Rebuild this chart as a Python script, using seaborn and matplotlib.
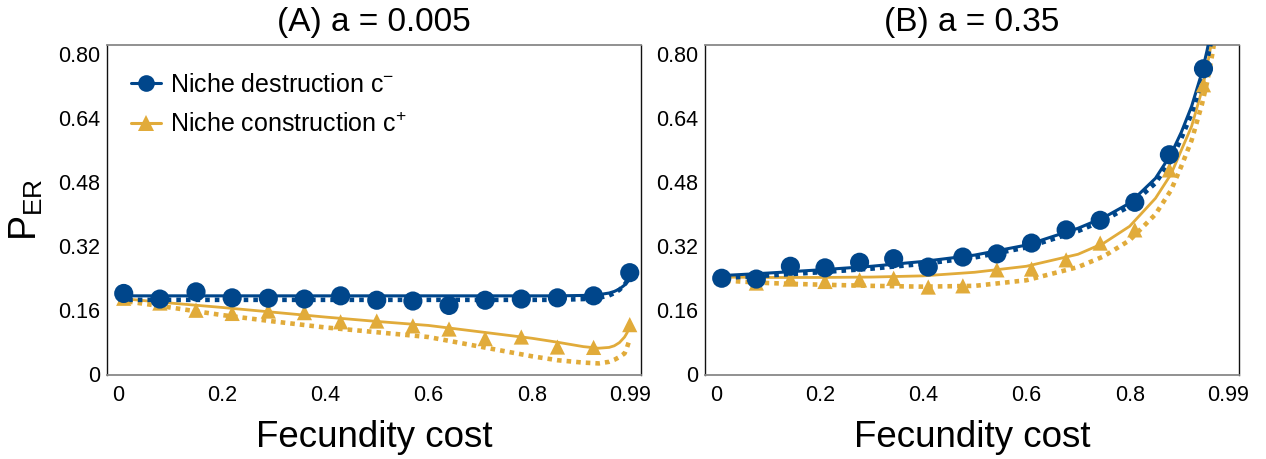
import numpy as np
import matplotlib
matplotlib.use("Agg")
import matplotlib.pyplot as plt
from matplotlib.lines import Line2D
import seaborn as sns

# ---- simulation points (markers) ----
sim_x_a = [0.01, 0.08, 0.15, 0.22, 0.29, 0.36, 0.43, 0.50, 0.57, 0.64, 0.71, 0.78, 0.85, 0.92, 0.99]
sim_destr_a = [0.202, 0.188, 0.206, 0.191, 0.190, 0.188, 0.196, 0.185, 0.183, 0.172, 0.185, 0.188, 0.191, 0.196, 0.254]
sim_constr_a = [0.190, 0.178, 0.160, 0.152, 0.158, 0.154, 0.131, 0.133, 0.121, 0.113, 0.089, 0.093, 0.068, 0.067, 0.124]

sim_x_b = [0.010, 0.077, 0.143, 0.210, 0.277, 0.343, 0.410, 0.477, 0.543, 0.610, 0.677, 0.743, 0.810, 0.877, 0.943]
sim_destr_b = [0.240, 0.238, 0.270, 0.266, 0.280, 0.289, 0.268, 0.293, 0.301, 0.328, 0.361, 0.385, 0.430, 0.549, 0.764]
sim_constr_b = [0.243, 0.228, 0.238, 0.232, 0.236, 0.240, 0.218, 0.221, 0.261, 0.263, 0.286, 0.328, 0.361, 0.511, 0.724]

# ---- analytical curves: solid = full model, dotted = approximation ----
curve_x_a = [0.0, 0.1, 0.2, 0.3, 0.4, 0.5, 0.6, 0.7, 0.8, 0.85, 0.9, 0.93, 0.95, 0.96, 0.97, 0.98, 0.985, 0.99]
destr_full_a = [0.196, 0.196, 0.196, 0.196, 0.196, 0.196, 0.196, 0.196, 0.196, 0.196, 0.197, 0.199, 0.203, 0.207, 0.213, 0.223, 0.232, 0.250]
destr_appr_a = [0.186, 0.186, 0.186, 0.186, 0.186, 0.186, 0.186, 0.186, 0.186, 0.186, 0.188, 0.191, 0.197, 0.203, 0.211, 0.224, 0.233, 0.245]
constr_full_a = [0.190, 0.178, 0.167, 0.155, 0.143, 0.132, 0.122, 0.106, 0.090, 0.080, 0.069, 0.065, 0.067, 0.071, 0.079, 0.093, 0.104, 0.120]
constr_appr_a = [0.185, 0.167, 0.148, 0.132, 0.117, 0.105, 0.093, 0.069, 0.045, 0.035, 0.029, 0.027, 0.031, 0.036, 0.043, 0.052, 0.068, 0.088]

curve_x_b = [0.0, 0.1, 0.2, 0.3, 0.4, 0.5, 0.6, 0.7, 0.75, 0.8, 0.85, 0.88, 0.9, 0.92, 0.94, 0.95, 0.96, 0.97]
destr_full_b = [0.246, 0.253, 0.261, 0.270, 0.282, 0.298, 0.323, 0.365, 0.392, 0.428, 0.490, 0.550, 0.605, 0.670, 0.755, 0.810, 0.875, 0.950]
destr_appr_b = [0.240, 0.247, 0.255, 0.264, 0.276, 0.292, 0.317, 0.358, 0.385, 0.420, 0.478, 0.535, 0.590, 0.652, 0.735, 0.785, 0.845, 0.920]
constr_full_b = [0.243, 0.242, 0.242, 0.243, 0.246, 0.255, 0.270, 0.300, 0.328, 0.370, 0.440, 0.500, 0.560, 0.620, 0.710, 0.770, 0.840, 0.920]
constr_appr_b = [0.235, 0.228, 0.224, 0.221, 0.219, 0.221, 0.235, 0.268, 0.295, 0.335, 0.400, 0.460, 0.520, 0.585, 0.675, 0.730, 0.800, 0.880]

titles = ["(A) a = 0.005", "(B) a = 0.35"]
yticks = [0, 0.16, 0.32, 0.48, 0.64, 0.80]
ytick_labels = ["0", "0.16", "0.32", "0.48", "0.64", "0.80"]
xticks = [0, 0.2, 0.4, 0.6, 0.8, 0.99]
xtick_labels = ["0", "0.2", "0.4", "0.6", "0.8", "0.99"]
legend_labels = ["Niche destruction c$^{-}$", "Niche construction c$^{+}$"]

BLUE = "#00468B"
GOLD = "#E1AB3A"

sns.set_theme(style="white")
plt.rcParams["font.family"] = ["Liberation Sans", "DejaVu Sans"]
plt.rcParams["mathtext.default"] = "regular"
plt.rcParams["text.color"] = "black"
plt.rcParams["axes.labelcolor"] = "black"

fig = plt.figure(figsize=(12.66, 4.59), dpi=100)
ax_a = fig.add_axes([107 / 1266, 1 - 375 / 459, 534 / 1266, 330 / 459])
ax_b = fig.add_axes([705 / 1266, 1 - 375 / 459, 534 / 1266, 330 / 459])

dot_style = dict(linestyle=(0, (1.0, 1.1)), dash_capstyle="butt", linewidth=3.3)

panels = [
    (ax_a, sim_x_a, sim_destr_a, sim_constr_a, curve_x_a, destr_full_a, destr_appr_a, constr_full_a, constr_appr_a),
    (ax_b, sim_x_b, sim_destr_b, sim_constr_b, curve_x_b, destr_full_b, destr_appr_b, constr_full_b, constr_appr_b),
]

for i, (ax, sx, sd, sc, cx, dfull, dappr, cfull, cappr) in enumerate(panels):
    sns.lineplot(x=cx, y=cappr, ax=ax, color=GOLD, zorder=2, **dot_style)
    sns.lineplot(x=cx, y=cfull, ax=ax, color=GOLD, linewidth=2.0, zorder=3)
    sns.lineplot(x=cx, y=dappr, ax=ax, color=BLUE, zorder=4, **dot_style)
    sns.lineplot(x=cx, y=dfull, ax=ax, color=BLUE, linewidth=2.2, zorder=5)
    sns.scatterplot(x=sx, y=sc, ax=ax, marker="^", s=120, color=GOLD, edgecolor="none", zorder=6)
    sns.scatterplot(x=sx, y=sd, ax=ax, marker="o", s=190, color=BLUE, edgecolor="none", zorder=7)

    ax.set_xlim(-0.0224, 1.0118)
    ax.set_ylim(-0.002, 0.8235)
    ax.set_xticks(xticks)
    ax.set_xticklabels(xtick_labels)
    ax.set_yticks(yticks)
    ax.set_yticklabels(ytick_labels)
    ax.tick_params(axis="both", direction="in", length=5, width=1.0, color="#333333",
                   labelsize=15.5, labelcolor="black")
    ax.tick_params(axis="x", pad=7)
    ax.tick_params(axis="y", pad=5)
    for side in ("left", "right"):
        ax.spines[side].set_color("#111111")
        ax.spines[side].set_linewidth(1.0)
    for side in ("top", "bottom"):
        ax.spines[side].set_color("#888888")
        ax.spines[side].set_linewidth(1.3)
    ax.set_title(titles[i], fontsize=24, pad=10, color="black")
    ax.set_xlabel("Fecundity cost", fontsize=26.5, labelpad=10)
    ax.grid(False)

ax_a.set_ylabel("P$_{ER}$", fontsize=27, labelpad=9)
ax_b.set_ylabel("")

handles = [
    Line2D([], [], color=BLUE, linewidth=2.2, marker="o", markersize=12, markeredgewidth=0),
    Line2D([], [], color=GOLD, linewidth=2.2, marker="^", markersize=11, markeredgewidth=0),
]
ax_a.legend(handles, legend_labels, loc="upper left", bbox_to_anchor=(0.045, 0.915),
            frameon=False, fontsize=18, handlelength=1.2, handletextpad=0.35,
            labelspacing=0.62, borderpad=0, borderaxespad=0)

fig.savefig("out.png", dpi=100)
